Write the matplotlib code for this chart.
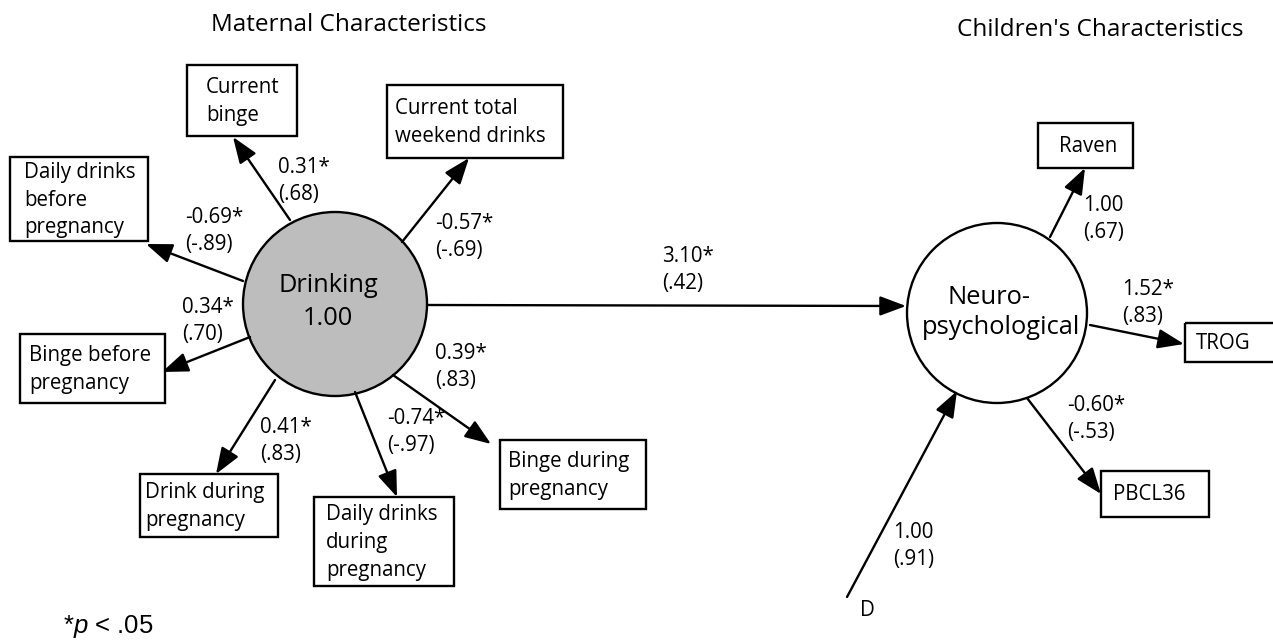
import matplotlib.pyplot as plt
from matplotlib.patches import Rectangle, Circle, FancyArrowPatch

plt.rcParams['font.family'] = ['Open Sans', 'DejaVu Sans']
plt.rcParams['mathtext.fontset'] = 'custom'
plt.rcParams['mathtext.it'] = 'Liberation Sans:italic'
plt.rcParams['mathtext.rm'] = 'Liberation Sans'

# ---- data ----
mat_title = 'Maternal Characteristics'
child_title = "Children's Characteristics"

mat_indicators = ['Current\nbinge', 'Current total\nweekend drinks',
                  'Daily drinks\nbefore\npregnancy', 'Binge before\npregnancy',
                  'Drink during\npregnancy', 'Daily drinks\nduring\npregnancy',
                  'Binge during\npregnancy']
mat_loadings = ['0.31*', '-0.57*', '-0.69*', '0.34*', '0.41*', '-0.74*', '0.39*']
mat_std = ['(.68)', '(-.69)', '(-.89)', '(.70)', '(.83)', '(-.97)', '(.83)']

child_indicators = ['Raven', 'TROG', 'PBCL36']
child_loadings = ['1.00', '1.52*', '-0.60*']
child_std = ['(.67)', '(.83)', '(-.53)']

drink_label = 'Drinking\n1.00'
neuro_lines = ['Neuro-', 'psychological']
path_coef, path_std = '3.10*', '(.42)'
dist_label, dist_coef, dist_std = 'D', '1.00', '(.91)'

# ---- layout (pixel space) ----
mat_boxes = [(187, 65, 297, 136), (387, 85, 563, 158), (10, 157, 148, 241),
             (20, 334, 165, 403), (140, 474, 278, 537), (314, 497, 454, 586),
             (500, 440, 646, 509)]
mat_text_x = [206, 395, 24, 29, 145, 326, 508]
mat_arrows = [((290, 220), (233, 137)), ((402, 242), (469, 158)),
              ((243, 281), (146, 244)), ((250, 337), (162, 372)),
              ((275, 380), (216, 474)), ((355, 392), (397, 497)),
              ((393, 375), (491, 444))]
mat_lab_xy = [(278, 181), (435, 237), (185, 231), (182, 321), (260, 441),
              (387, 432), (435, 367)]

child_boxes = [(1038, 123, 1133, 168), (1185, 323, 1290, 362), (1101, 471, 1209, 517)]
child_text_x = [1059, 1196, 1113]
child_arrows = [((1050, 237), (1085, 168)), ((1090, 325), (1184, 344)),
                ((1027, 398), (1101, 494))]
child_lab_xy = [(1083, 219), (1122, 303), (1067, 419)]

fig = plt.figure(figsize=(12.73, 6.42), dpi=100)
ax = fig.add_axes([0, 0, 1, 1])
ax.set_xlim(0, 1273)
ax.set_ylim(642, 0)
ax.axis('off')

fs = 14.8
lw = 1.7
astyle = '-|>,head_length=0.8,head_width=0.3'


def arrow(p0, p1):
    ax.add_patch(FancyArrowPatch(p0, p1, arrowstyle=astyle, mutation_scale=20,
                                 color='black', lw=lw, shrinkA=0, shrinkB=0))


def box(rect, tx, label):
    x0, y0, x1, y1 = rect
    ax.add_patch(Rectangle((x0, y0), x1 - x0, y1 - y0, fill=False,
                           ec='black', lw=lw))
    ax.text(tx, (y0 + y1) / 2 + 1, label, ha='left', va='center',
            fontsize=fs, linespacing=1.42)


def coef(xy, c, s):
    ax.text(xy[0], xy[1], c + '\n' + s, ha='left', va='center',
            fontsize=fs, linespacing=1.42)


# latent variables
ax.add_patch(Circle((335, 304), 92, fc='#bdbdbd', ec='black', lw=lw))
ax.text(328, 302, drink_label, ha='center', va='center', fontsize=18.3,
        linespacing=1.42)
ax.add_patch(Circle((997, 313), 90, fc='white', ec='black', lw=lw))
ax.text(947, 297, neuro_lines[0], ha='left', va='center', fontsize=18.4)
ax.text(922, 328, neuro_lines[1], ha='left', va='center', fontsize=18.4)

for rect, tx, lab, (p0, p1), xy, c, s in zip(mat_boxes, mat_text_x, mat_indicators,
                                              mat_arrows, mat_lab_xy, mat_loadings,
                                              mat_std):
    box(rect, tx, lab)
    arrow(p0, p1)
    coef(xy, c, s)

for rect, tx, lab, (p0, p1), xy, c, s in zip(child_boxes, child_text_x,
                                              child_indicators, child_arrows,
                                              child_lab_xy, child_loadings, child_std):
    box(rect, tx, lab)
    arrow(p0, p1)
    coef(xy, c, s)

# structural path
arrow((428, 305), (906, 306))
coef((662, 270), path_coef, path_std)

# disturbance
arrow((847, 597), (957, 391))
coef((893, 546), dist_coef, dist_std)
ax.text(860, 610, dist_label, ha='left', va='center', fontsize=fs)

# headers
ax.text(349, 25, mat_title, ha='center', va='center', fontsize=17.5)
ax.text(1100, 30, child_title, ha='center', va='center', fontsize=17.5)

# footnote
ax.text(63, 627, r'*$p$ < .05', ha='left', va='center', fontsize=18.5,
        family='Liberation Sans')

fig.savefig('out.png', dpi=100)
